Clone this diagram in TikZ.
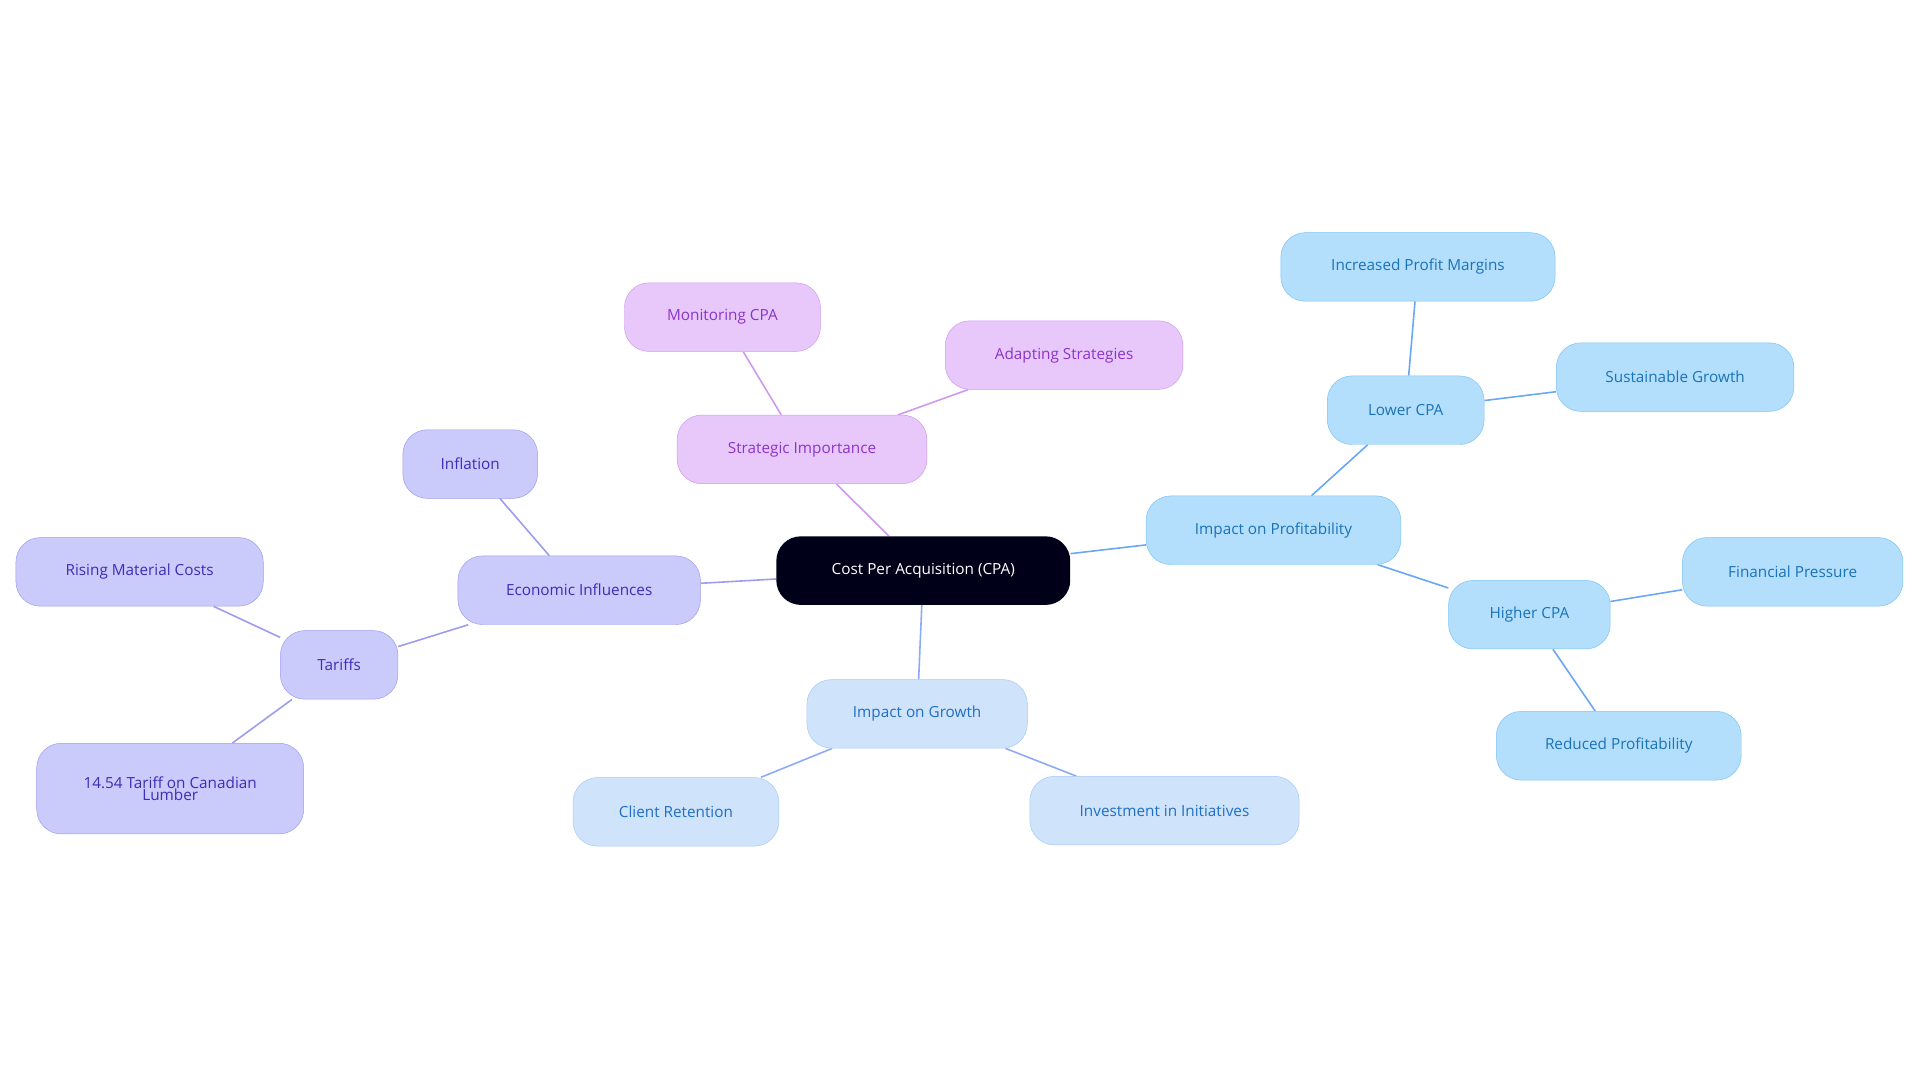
\documentclass[tikz,border=0pt]{standalone}
\usepackage{fontspec}
\setmainfont{Open Sans}
\usetikzlibrary{backgrounds}
\definecolor{profFill}{HTML}{B3DEFC}\definecolor{profLine}{HTML}{7CC4F4}\definecolor{profText}{HTML}{1A73B8}
\definecolor{growFill}{HTML}{CFE3FB}\definecolor{growLine}{HTML}{A6C8F5}\definecolor{growText}{HTML}{1F6FC5}
\definecolor{stratFill}{HTML}{E8C8FB}\definecolor{stratLine}{HTML}{CF98F0}\definecolor{stratText}{HTML}{8A35C8}
\definecolor{ecoFill}{HTML}{CACAFB}\definecolor{ecoLine}{HTML}{9C9CF0}\definecolor{ecoText}{HTML}{3A2FB8}
\begin{document}
\begin{tikzpicture}[x=1pt,y=-1pt]
	\tikzstyle{bulle}=[rounded corners=20pt,minimum height=56pt,font=\fontsize{12.5}{13}\selectfont,align=center]
	\tikzstyle{profit}=[bulle,fill=profFill,draw=profLine,text=profText]
	\tikzstyle{croissance}=[bulle,fill=growFill,draw=growLine,text=growText]
	\tikzstyle{strategie}=[bulle,fill=stratFill,draw=stratLine,text=stratText]
	\tikzstyle{economie}=[bulle,fill=ecoFill,draw=ecoLine,text=ecoText]
	\tikzstyle{lien}=[line width=1.3pt]
	\useasboundingbox (0,0) rectangle (1568,884);
	\node[bulle,fill=black!90!blue,text=white,minimum width=240pt] (C) at (754,466) {Cost Per Acquisition (CPA)};
	\node[profit,minimum width=208pt] (P) at (1040,433) {Impact on Profitability};
	\node[profit,minimum width=128pt] (PL) at (1148,335) {Lower CPA};
	\node[profit,minimum width=224pt] (PLa) at (1158,218) {Increased Profit Margins};
	\node[profit,minimum width=194pt] (PLb) at (1368,308) {Sustainable Growth};
	\node[profit,minimum width=132pt] (PH) at (1249,502) {Higher CPA};
	\node[profit,minimum width=180pt] (PHa) at (1464,467) {Financial Pressure};
	\node[profit,minimum width=200pt] (PHb) at (1322,609) {Reduced Profitability};
	\node[croissance,minimum width=180pt] (G) at (749,583) {Impact on Growth};
	\node[croissance,minimum width=168pt] (Ga) at (552,663) {Client Retention};
	\node[croissance,minimum width=220pt] (Gb) at (951,662) {Investment in Initiatives};
	\node[strategie,minimum width=204pt] (S) at (655,367) {Strategic Importance};
	\node[strategie,minimum width=160pt] (Sa) at (590,259) {Monitoring CPA};
	\node[strategie,minimum width=194pt] (Sb) at (869,290) {Adapting Strategies};
	\node[economie,minimum width=198pt] (E) at (473,482) {Economic Influences};
	\node[economie,minimum width=110pt] (Ea) at (384,379) {Inflation};
	\node[economie,minimum width=96pt] (ET) at (277,543) {Tariffs};
	\node[economie,minimum width=202pt] (ETa) at (114,467) {Rising Material Costs};
	\node[economie,minimum width=218pt,minimum height=74pt] (ETb) at (139,644) {14.54 Tariff on Canadian\\[-3pt]Lumber};
	\begin{scope}[on background layer]
		\draw[lien,profLine!85!blue] (C)--(P) (P)--(PL) (PL)--(PLa) (PL)--(PLb) (P)--(PH) (PH)--(PHa) (PH)--(PHb);
		\draw[lien,growLine!85!blue] (C)--(G) (G)--(Ga) (G)--(Gb);
		\draw[lien,stratLine] (C)--(S) (S)--(Sa) (S)--(Sb);
		\draw[lien,ecoLine] (C)--(E) (E)--(Ea) (E)--(ET) (ET)--(ETa) (ET)--(ETb);
	\end{scope}
\end{tikzpicture}
\end{document}
